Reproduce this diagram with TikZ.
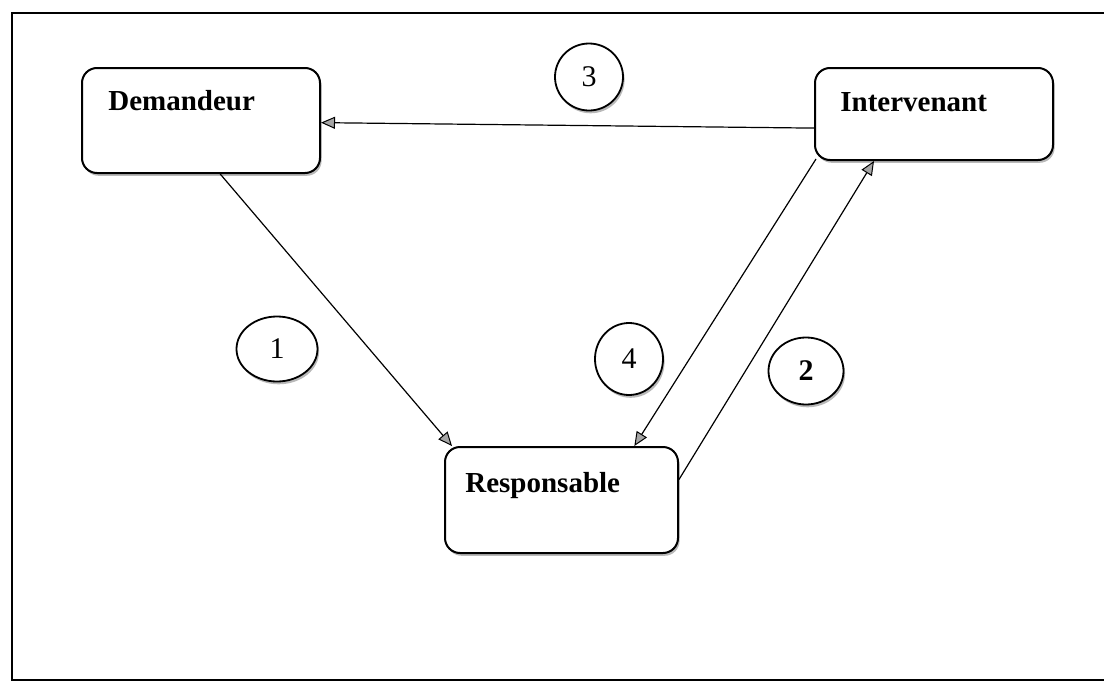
\documentclass[tikz,border=0pt]{standalone}
\usepackage{fontspec}
\setmainfont{Liberation Serif}
\usetikzlibrary{arrows.meta,shapes.geometric,shadows,calc}
\begin{document}
\begin{tikzpicture}[x=0.5pt,y=-0.5pt,
  box/.style={draw=black, line width=1pt, rounded corners=7.5pt, fill=white, inner sep=0pt,
    drop shadow={shadow xshift=0.8pt, shadow yshift=-1.4pt, fill=gray!55, opacity=1}},
  num/.style={draw=black, line width=0.9pt, ellipse, fill=white, inner sep=0pt,
    drop shadow={shadow xshift=0.8pt, shadow yshift=-1.4pt, fill=gray!55, opacity=1},
    font=\fontsize{15}{18}\selectfont},
  lbl/.style={anchor=base west, inner sep=0pt, font=\fontsize{14.5}{17}\selectfont\bfseries},
  conn/.style={draw=black, line width=0.6pt,
    -{Triangle[length=7pt,width=6pt,fill=gray!70,line width=0.5pt]}},
  frame/.style={draw=black, line width=1pt}]
\useasboundingbox (0,0) rectangle (1104,685);
\fill[white] (0,0) rectangle (1104,685);
% frame
\coordinate (ftr) at (1104,13);
\coordinate (ftl) at (12,13);
\coordinate (fbl) at (12,680);
\coordinate (fbr) at (1104,680);
\draw[frame] (ftr) -- (ftl) -- (fbl) -- (fbr);
% boxes
\node[box, minimum width=119pt, minimum height=52.5pt] (dem) at (201,120.5) {};
\node[box, minimum width=119pt, minimum height=46pt] (int) at (934,114) {};
\node[box, minimum width=116.5pt, minimum height=53pt] (res) at (561.5,500) {};
\node[lbl] (demT) at (108,110) {Demandeur};
\node[lbl] (intT) at (840,111) {Intervenant};
\node[lbl] (resT) at (465,492) {Responsable};
% number circles
\node[num, minimum width=40.5pt, minimum height=32.5pt] (n1) at (277,349) {1};
\node[num, minimum width=37.5pt, minimum height=33.5pt, font=\fontsize{15}{18}\selectfont\bfseries] (n2) at (806,371) {2};
\node[num, minimum width=34pt, minimum height=33.5pt] (n3) at (589,77) {3};
\node[num, minimum width=34pt, minimum height=36pt] (n4) at (629,359) {4};
% connector end points
\coordinate (d1) at ($(dem.south west)!0.58!(dem.south east)$);
\coordinate (r1) at ($(res.north west)!0.034!(res.north east)$);
\coordinate (r4) at ($(res.north west)!0.81!(res.north east)$);
\coordinate (i4) at ($(int.south west)+(2,-2)$);
\coordinate (r2) at ($(res.north east)!0.31!(res.south east)$);
\coordinate (i2) at ($(int.south west)!0.25!(int.south east)$);
\coordinate (i3) at ($(int.north west)!0.65!(int.south west)$);
\coordinate (d3) at ($(dem.north east)!0.52!(dem.south east)$);
% connectors
\draw[conn] (d1) -- (r1);
\draw[conn] (r2) -- (i2);
\draw[conn] (i3) -- (d3);
\draw[conn] (i4) -- (r4);
\end{tikzpicture}
\end{document}
